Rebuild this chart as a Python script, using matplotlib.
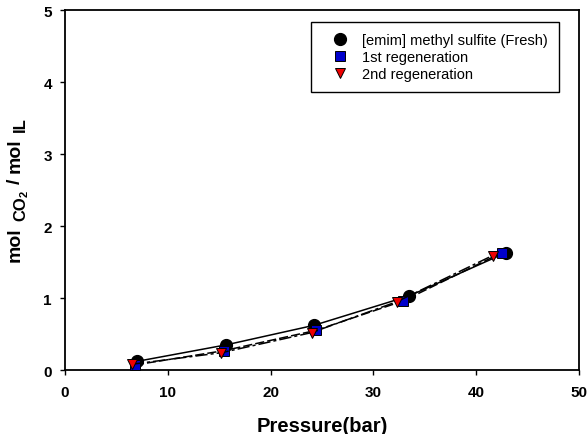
import matplotlib.pyplot as plt
from matplotlib.transforms import IdentityTransform

plt.rcParams['font.family'] = ['Liberation Sans', 'DejaVu Sans']

# CO2 uptake data
p_fresh = [7.0, 15.7, 24.2, 33.5, 42.9]
x_fresh = [0.12, 0.35, 0.62, 1.03, 1.63]
p_reg1 = [6.8, 15.5, 24.4, 32.9, 42.5]
x_reg1 = [0.07, 0.27, 0.55, 0.96, 1.63]
p_reg2 = [6.5, 15.2, 24.0, 32.3, 41.6]
x_reg2 = [0.08, 0.24, 0.52, 0.95, 1.59]

fig = plt.figure(figsize=(5.87, 4.35), dpi=100)
ax = fig.add_axes([0.1107, 0.1471, 0.8757, 0.8276])

ax.plot(p_fresh, x_fresh, '-', color='black', lw=1.1, marker='o', ms=8.5,
        mfc='black', mec='black', label='[emim] methyl sulfite (Fresh)', zorder=3)
ax.plot(p_reg1, x_reg1, linestyle=(0, (6, 2)), color='black', lw=1.1, marker='s', ms=6.5,
        mfc='#0000cc', mec='black', mew=0.7, label='1st regeneration', zorder=4)
ax.plot(p_reg2, x_reg2, linestyle=(0, (8, 2, 2, 2)), color='black', lw=1.1, marker='v', ms=7.5,
        mfc='#ee0000', mec='black', mew=0.7, label='2nd regeneration', zorder=5)

ax.set_xlim(0, 50)
ax.set_ylim(0, 5)
ax.set_xticks([0, 10, 20, 30, 40, 50])
ax.set_yticks([0, 1, 2, 3, 4, 5])
ax.tick_params(direction='out', length=3.5, width=1.0, labelsize=11)
ax.tick_params(axis='x', pad=7.5, top=False)
ax.tick_params(axis='y', pad=6, right=False)
for lab in ax.get_xticklabels() + ax.get_yticklabels():
    lab.set_fontweight('bold')
for s in ax.spines.values():
    s.set_linewidth(1.3)

ax.set_xlabel('Pressure(bar)', fontsize=14.5, fontweight='bold')
ax.xaxis.set_label_coords(0.5, -0.127)

leg = ax.legend(loc='upper right', bbox_to_anchor=(0.961, 0.967), fontsize=10.5,
                frameon=True, fancybox=False, edgecolor='black', framealpha=1,
                borderpad=0.75, handlelength=2.4, handletextpad=0.35, labelspacing=0.2,
                borderaxespad=0)
leg.get_frame().set_linewidth(1.0)
for h in leg.get_lines():
    h.set_linestyle('None')

# y label built piece by piece so the subscripts keep a large size
renderer = fig.canvas.get_renderer()
pieces = [('mol', 14, 0, 0), ('CO', 12, 5, 6), ('2', 8, 8, 0),
          ('/', 14, 0, 6), ('mol', 14, 0, 6), ('IL', 12, 5, 6)]
y = 435 - 262
for txt, size, shift, gap in pieces:
    y += gap
    t = fig.text(20 + shift, y, txt, transform=IdentityTransform(), rotation=90,
                 rotation_mode='anchor', ha='left', va='baseline',
                 fontsize=size, fontweight='bold')
    y += t.get_window_extent(renderer).height

fig.savefig('out.png', dpi=100)
